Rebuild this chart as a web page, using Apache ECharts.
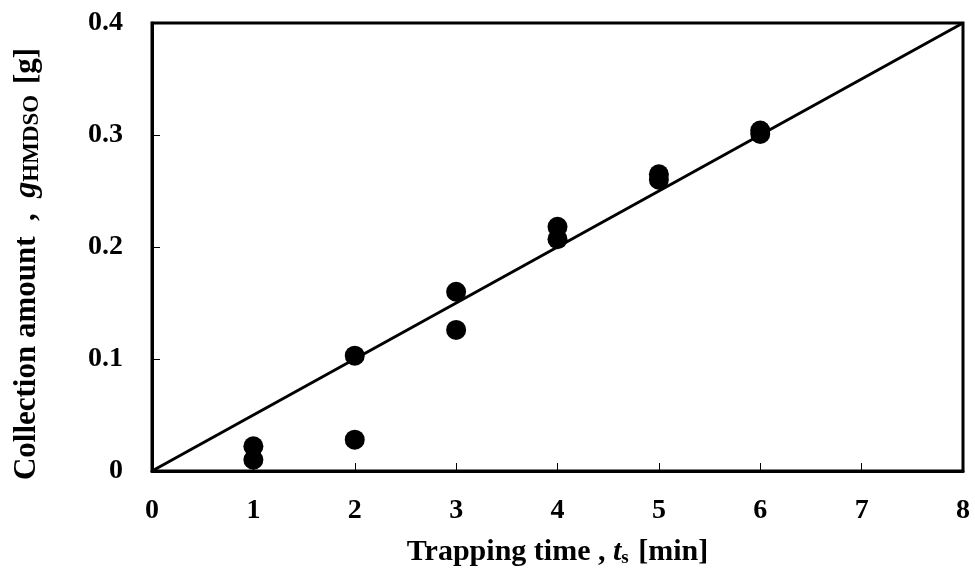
<!DOCTYPE html>
<html>
<head>
<meta charset="utf-8">
<script src="https://cdn.jsdelivr.net/npm/echarts@6/dist/echarts.min.js"></script>
<style>
html,body{margin:0;padding:0;background:#fff;}
#chart{width:975px;height:575px;}
</style>
</head>
<body>
<div id="chart"></div>
<script>
// trapping time [min] and collected amount [g]
var trapTime = [1, 1, 2, 2, 3, 3, 4, 4, 5, 5, 6, 6];
var amount = [0.022, 0.010, 0.103, 0.028, 0.160, 0.126, 0.218, 0.207, 0.265, 0.260, 0.304, 0.301];
var fitX = [0, 8];
var fitY = [0, 0.4];

var font = 'Liberation Serif';
var chart = echarts.init(document.getElementById('chart'));

var points = trapTime.map(function (t, i) { return [t, amount[i]]; });
var fitLine = fitX.map(function (t, i) { return [t, fitY[i]]; });

var option = {
    backgroundColor: '#fff',
    animation: false,
    grid: {
        left: 152, right: 12, top: 23, bottom: 104,
        show: true, borderColor: '#000', borderWidth: 3
    },
    xAxis: {
        type: 'value', min: 0, max: 8, interval: 1,
        splitLine: {show: false},
        axisLine: {lineStyle: {color: '#000', width: 3}},
        axisTick: {inside: true, length: 8, lineStyle: {color: '#000', width: 1}},
        axisLabel: {color: '#000', fontFamily: font, fontWeight: 'bold', fontSize: 28, margin: 26},
        name: '{b|Trapping time , }{i|t}{s|s}{b| [min]}',
        nameLocation: 'middle', nameGap: 66,
        nameTextStyle: {
            rich: {
                b: {fontFamily: font, fontWeight: 'bold', fontSize: 30, color: '#000'},
                i: {fontFamily: font, fontWeight: 'bold', fontStyle: 'italic', fontSize: 30, color: '#000'},
                s: {fontFamily: font, fontWeight: 'bold', fontSize: 19, color: '#000', verticalAlign: 'bottom', padding: [12, 2, 0, 0]}
            }
        }
    },
    yAxis: {
        type: 'value', min: 0, max: 0.4, interval: 0.1,
        splitLine: {show: false},
        axisLine: {lineStyle: {color: '#000', width: 3}},
        axisTick: {inside: true, length: 8, lineStyle: {color: '#000', width: 1}},
        axisLabel: {color: '#000', fontFamily: font, fontWeight: 'bold', fontSize: 28, margin: 29},
        name: '{b|Collection amount  ,  }{i|g}{s|HMDSO}{b| [g]}',
        nameLocation: 'middle', nameGap: 108,
        nameTextStyle: {
            padding: [0, 34, 0, 0],
            rich: {
                b: {fontFamily: font, fontWeight: 'bold', fontSize: 31, color: '#000'},
                i: {fontFamily: font, fontWeight: 'bold', fontStyle: 'italic', fontSize: 32, color: '#000'},
                s: {fontFamily: font, fontWeight: 'bold', fontSize: 23, color: '#000', verticalAlign: 'bottom', padding: [12, 3, 0, 0]}
            }
        }
    },
    series: [
        {
            type: 'line', data: fitLine, symbol: 'none',
            lineStyle: {color: '#000', width: 3}, z: 2
        },
        {
            type: 'scatter', data: points, symbol: 'circle', symbolSize: 20,
            itemStyle: {color: '#000', opacity: 1}, z: 3
        }
    ]
};

chart.setOption(option);
</script>
</body>
</html>
